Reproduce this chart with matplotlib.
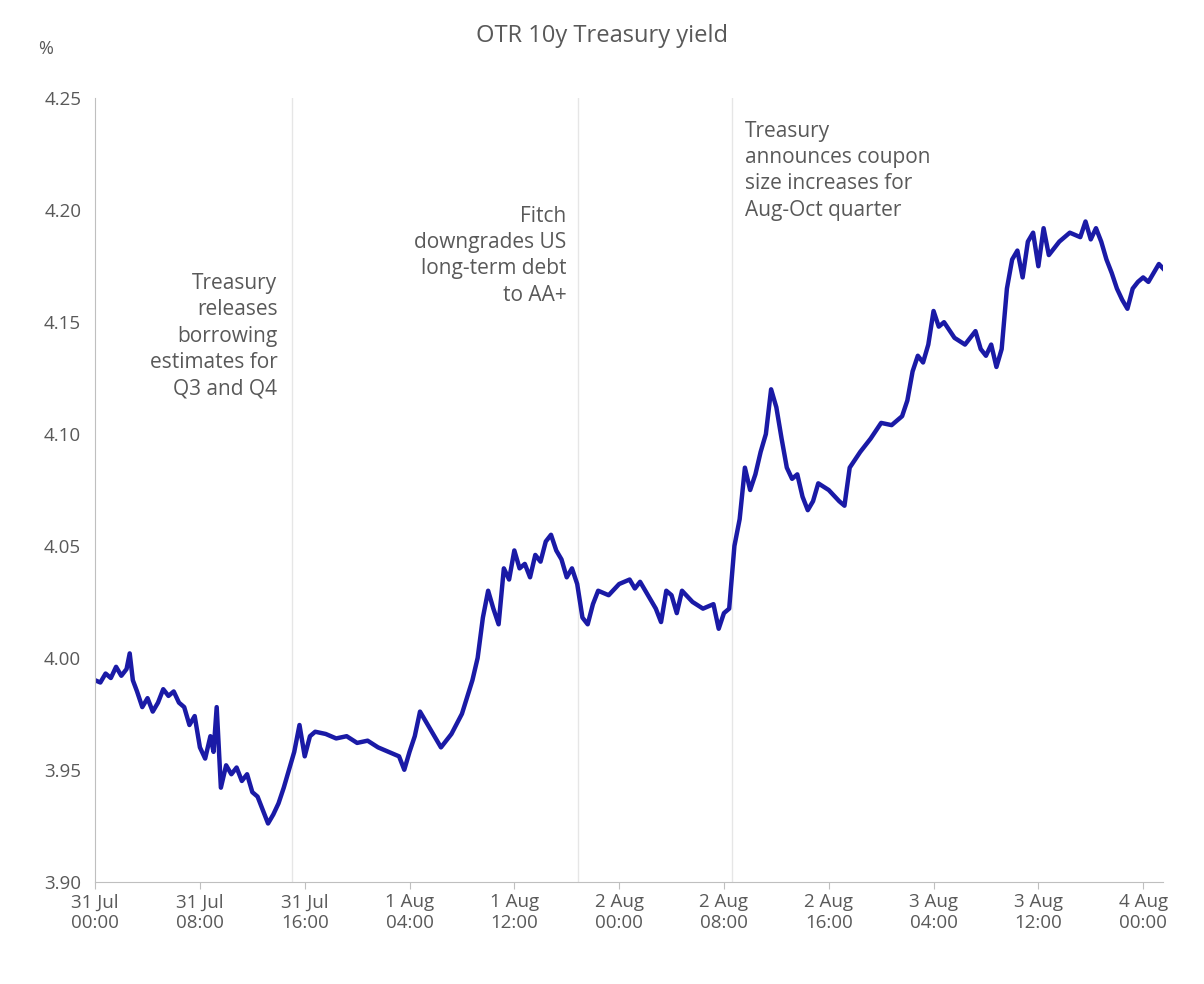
import matplotlib
matplotlib.use("Agg")
import matplotlib.pyplot as plt

plt.rcParams['font.family'] = ['Open Sans', 'DejaVu Sans']

tick_labels = ["31 Jul\n00:00", "31 Jul\n08:00", "31 Jul\n16:00", "1 Aug\n04:00", "1 Aug\n12:00",
               "2 Aug\n00:00", "2 Aug\n08:00", "2 Aug\n16:00", "3 Aug\n04:00", "3 Aug\n12:00", "4 Aug\n00:00"]
x = [0, .05, .1, .15, .2, .25, .3, .33, .36, .4, .45, .5, .55, .6, .65, .7, .75, .8, .85, .9, .95, 1.0, 1.05, 1.1, 1.13, 1.16, 1.2,
     1.25, 1.3, 1.35, 1.4, 1.45, 1.5, 1.55, 1.6, 1.65, 1.7, 1.75, 1.8, 1.85, 1.9, 1.95, 2.0, 2.05, 2.1, 2.2, 2.3, 2.4, 2.5,
     2.6, 2.7, 2.8, 2.9, 2.95, 3.0, 3.05, 3.1, 3.15, 3.2, 3.3, 3.4, 3.5, 3.6, 3.65, 3.7, 3.75, 3.8, 3.85, 3.9, 3.95, 4.0,
     4.05, 4.1, 4.15, 4.2, 4.25, 4.3, 4.35, 4.4, 4.45, 4.5, 4.55, 4.6, 4.65, 4.7, 4.75, 4.8, 4.9, 5.0, 5.1, 5.15, 5.2, 5.3,
     5.35, 5.4, 5.45, 5.5, 5.55, 5.6, 5.7, 5.8, 5.9, 5.95, 6.0, 6.05, 6.1, 6.15, 6.2, 6.25, 6.3, 6.35, 6.4, 6.45, 6.5, 6.55,
     6.6, 6.65, 6.7, 6.75, 6.8, 6.85, 6.9, 7.0, 7.1, 7.15, 7.2, 7.3, 7.4, 7.5, 7.6, 7.7, 7.75, 7.8, 7.85, 7.9, 7.95, 8.0,
     8.05, 8.1, 8.2, 8.3, 8.4, 8.45, 8.5, 8.55, 8.6, 8.65, 8.7, 8.75, 8.8, 8.85, 8.9, 8.95, 9.0, 9.05, 9.1, 9.2, 9.3, 9.4,
     9.45, 9.5, 9.55, 9.6, 9.65, 9.7, 9.75, 9.8, 9.85, 9.9, 9.95, 10.0, 10.05, 10.1, 10.15, 10.19]
y = [3.990, 3.989, 3.993, 3.991, 3.996, 3.992, 3.995, 4.002, 3.990, 3.985, 3.978, 3.982, 3.976, 3.980, 3.986, 3.983, 3.985,
     3.980, 3.978, 3.970, 3.974, 3.960, 3.955, 3.965, 3.958, 3.978, 3.942, 3.952, 3.948, 3.951, 3.945, 3.948, 3.940, 3.938,
     3.932, 3.926, 3.930, 3.935, 3.942, 3.950, 3.958, 3.970, 3.956, 3.965, 3.967, 3.966, 3.964, 3.965, 3.962, 3.963, 3.960,
     3.958, 3.956, 3.950, 3.958, 3.965, 3.976, 3.972, 3.968, 3.960, 3.966, 3.975, 3.990, 4.000, 4.018, 4.030, 4.022, 4.015,
     4.040, 4.035, 4.048, 4.040, 4.042, 4.036, 4.046, 4.043, 4.052, 4.055, 4.048, 4.044, 4.036, 4.040, 4.033, 4.018, 4.015,
     4.024, 4.030, 4.028, 4.033, 4.035, 4.031, 4.034, 4.026, 4.022, 4.016, 4.030, 4.028, 4.020, 4.030, 4.025, 4.022, 4.024,
     4.013, 4.020, 4.022, 4.050, 4.062, 4.085, 4.075, 4.082, 4.092, 4.100, 4.120, 4.112, 4.098, 4.085, 4.080, 4.082, 4.072,
     4.066, 4.070, 4.078, 4.075, 4.070, 4.068, 4.085, 4.092, 4.098, 4.105, 4.104, 4.108, 4.115, 4.128, 4.135, 4.132, 4.140,
     4.155, 4.148, 4.150, 4.143, 4.140, 4.146, 4.138, 4.135, 4.140, 4.130, 4.138, 4.165, 4.178, 4.182, 4.170, 4.186, 4.190,
     4.175, 4.192, 4.180, 4.186, 4.190, 4.188, 4.195, 4.187, 4.192, 4.186, 4.178, 4.172, 4.165, 4.160, 4.156, 4.165, 4.168,
     4.170, 4.168, 4.172, 4.176, 4.174]
vlines = [1.88, 4.61, 6.08]

fig = plt.figure(figsize=(12.04, 9.84), dpi=100)
ax = fig.add_axes([0.079, 0.104, 0.887, 0.796])
grey = '#595959'
for v in vlines:
    ax.axvline(v, color='#e6e6e6', lw=1, zorder=0)
ax.plot(x, y, color='#1a1aa6', lw=3.2, solid_joinstyle='round')
ax.set_xlim(0, 10.19)
ax.set_ylim(3.90, 4.25)
ax.set_xticks(range(11))
ax.set_xticklabels(tick_labels, fontsize=13.5, color=grey)
ax.set_yticks([3.90, 3.95, 4.00, 4.05, 4.10, 4.15, 4.20, 4.25])
ax.set_yticklabels([f"{v:.2f}" for v in ax.get_yticks()], fontsize=13.5, color=grey)
for s in ['top', 'right']:
    ax.spines[s].set_visible(False)
for s in ['left', 'bottom']:
    ax.spines[s].set_color('#bfbfbf')
ax.tick_params(axis='both', color='#bfbfbf', length=5)
ax.tick_params(axis='y', length=0, pad=10)

fig.text(0.5, 0.963, "OTR 10y Treasury yield", ha='center', va='center', fontsize=17, color=grey)
fig.text(0.032, 0.950, "%", ha='left', va='center', fontsize=13, color=grey)
tk = dict(fontsize=15, color=grey, linespacing=1.33)
ax.text(1.74, 4.172, "Treasury\nreleases\nborrowing\nestimates for\nQ3 and Q4", ha='right', va='top', **tk)
ax.text(4.5, 4.202, "Fitch\ndowngrades US\nlong-term debt\nto AA+", ha='right', va='top', **tk)
ax.text(6.2, 4.240, "Treasury\nannounces coupon\nsize increases for\nAug-Oct quarter", ha='left', va='top', **tk)
fig.savefig("out.png", dpi=100)
